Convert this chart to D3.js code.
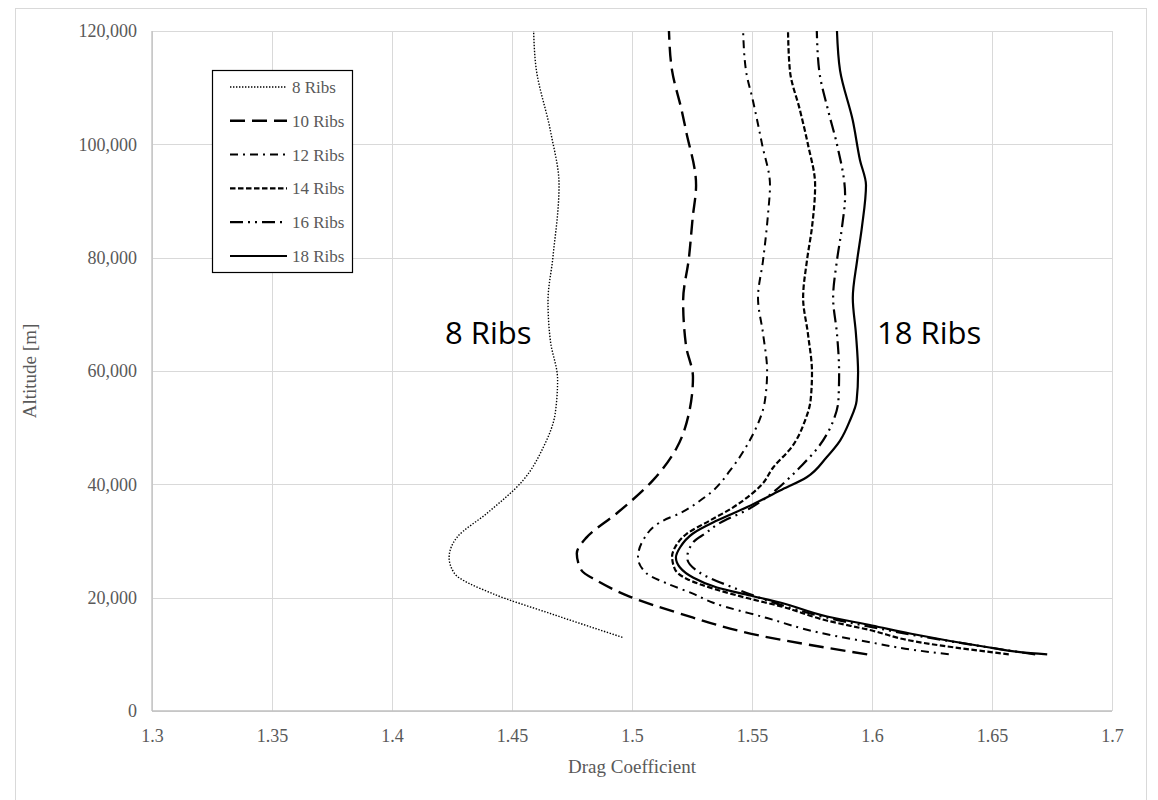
<!DOCTYPE html>
<html>
<head>
<meta charset="utf-8">
<script src="https://cdn.jsdelivr.net/npm/d3@7"></script>
<style>
  html, body { margin: 0; padding: 0; background: #fff; }
  .tick-label { font-family: "Liberation Serif", "Times New Roman", serif; font-size: 18px; fill: #595959; }
  .axis-title { font-family: "Liberation Serif", "Times New Roman", serif; font-size: 19px; fill: #595959; }
  .legend-label { font-family: "Liberation Serif", "Times New Roman", serif; font-size: 17px; fill: #595959; }
  .note { font-family: "Open Sans", "Noto Sans", sans-serif; font-size: 31px; fill: #000; }
</style>
</head>
<body>
<div id="chart"></div>
<script>
// data: altitude [m] and drag coefficient, bottom to top
const ribs8Alt = [13000, 17200, 20700, 24300, 27100, 30600, 34900, 40700, 46500, 52500, 58500, 65300, 72400, 79900, 92800, 102400, 113600, 120000];
const ribs8Cd = [1.496, 1.466, 1.442, 1.426, 1.4238, 1.427, 1.4396, 1.4546, 1.463, 1.468, 1.469, 1.466, 1.465, 1.467, 1.4696, 1.466, 1.46, 1.459];

const ribs10Alt = [10000, 13300, 17200, 20200, 23000, 24800, 27800, 30600, 34900, 40700, 46500, 52500, 58900, 64500, 72400, 79900, 87100, 92800, 102400, 106000, 113000, 120000];
const ribs10Cd = [1.598, 1.5533, 1.52, 1.499, 1.4854, 1.479, 1.477, 1.481, 1.4937, 1.5087, 1.5187, 1.5237, 1.5254, 1.5225, 1.5213, 1.5237, 1.5253, 1.5267, 1.5225, 1.5207, 1.5167, 1.5154];

const ribs12Alt = [10000, 11000, 11900, 13800, 16400, 19100, 20700, 22500, 24300, 27100, 30100, 33600, 34900, 37100, 38900, 42400, 47700, 54800, 60000, 66600, 72900, 79500, 87800, 92800, 100000, 107700, 113000, 120000];
const ribs12Cd = [1.632, 1.6138, 1.6021, 1.5783, 1.5563, 1.5338, 1.5254, 1.5146, 1.506, 1.5025, 1.5046, 1.513, 1.52, 1.5283, 1.5338, 1.5408, 1.549, 1.5554, 1.5563, 1.5546, 1.5525, 1.5546, 1.5567, 1.5575, 1.5542, 1.5504, 1.5475, 1.5463];

const ribs14Alt = [10000, 12440, 14200, 15970, 18500, 19800, 21400, 23300, 25000, 27300, 28850, 31300, 33620, 35900, 38330, 39920, 43020, 46550, 51260, 54790, 59700, 66600, 72900, 79500, 85400, 92800, 100000, 106000, 113000, 120000];
const ribs14Cd = [1.657, 1.6158, 1.6, 1.5811, 1.5617, 1.5492, 1.5354, 1.5229, 1.5179, 1.5167, 1.5179, 1.5229, 1.5325, 1.542, 1.5499, 1.554, 1.5589, 1.5665, 1.5721, 1.5744, 1.575, 1.5733, 1.5713, 1.5729, 1.575, 1.5763, 1.5733, 1.57, 1.5658, 1.565];

const ribs16Alt = [10000, 10800, 11800, 13200, 14800, 16600, 19000, 21800, 24400, 27000, 29900, 31300, 33200, 35500, 38000, 40670, 43020, 46550, 51260, 54790, 59700, 66600, 72900, 79500, 85400, 91000, 100000, 106000, 113000, 120000];
const ribs16Cd = [1.668, 1.655, 1.64, 1.62, 1.6, 1.58, 1.56, 1.542, 1.5283, 1.523, 1.5258, 1.5304, 1.5367, 1.548, 1.557, 1.5644, 1.57, 1.5776, 1.5839, 1.586, 1.5863, 1.5854, 1.5838, 1.5854, 1.5875, 1.5888, 1.5854, 1.5817, 1.578, 1.577];

const ribs18Alt = [10000, 10400, 11200, 13680, 15090, 16680, 19150, 20380, 21790, 23560, 25320, 27090, 28850, 31320, 33600, 36000, 38910, 41260, 44790, 47730, 51260, 54790, 59700, 66600, 72900, 79500, 85400, 92800, 97200, 104200, 113000, 120000];
const ribs18Cd = [1.673, 1.6617, 1.649, 1.6158, 1.6, 1.5813, 1.5617, 1.5492, 1.5354, 1.5254, 1.52, 1.5183, 1.52, 1.5254, 1.5354, 1.548, 1.5617, 1.5728, 1.5811, 1.5867, 1.5908, 1.5936, 1.5942, 1.5933, 1.592, 1.5938, 1.5958, 1.5975, 1.595, 1.592, 1.5867, 1.5854];

const seriesNames = ["8 Ribs", "10 Ribs", "12 Ribs", "14 Ribs", "16 Ribs", "18 Ribs"];
const xTicks = [1.3, 1.35, 1.4, 1.45, 1.5, 1.55, 1.6, 1.65, 1.7];
const yTicks = [0, 20000, 40000, 60000, 80000, 100000, 120000];

// line styles, same order as seriesNames
const styles = [
  { width: 1.4, dash: "1.4,1.6" },
  { width: 2.4, dash: "15,7" },
  { width: 2, dash: "8,5,2,5" },
  { width: 2.2, dash: "5.5,2.5" },
  { width: 2.2, dash: "13,5,2,5,2,5" },
  { width: 2.2, dash: null },
];

const series = [
  [ribs8Cd, ribs8Alt],
  [ribs10Cd, ribs10Alt],
  [ribs12Cd, ribs12Alt],
  [ribs14Cd, ribs14Alt],
  [ribs16Cd, ribs16Alt],
  [ribs18Cd, ribs18Alt],
].map(([cd, alt], i) => ({
  name: seriesNames[i],
  style: styles[i],
  points: cd.map((c, j) => [c, alt[j]]),
}));

const W = 1158, H = 800;
const margin = { top: 31, left: 152 };
const width = 960, height = 680;

var main = d3.select("#chart").append("svg").attr("width", W).attr("height", H);

// chart frame
main.append("rect")
  .attr("x", 15.5).attr("y", 8.5)
  .attr("width", 1131).attr("height", 820)
  .attr("fill", "none").attr("stroke", "#d9d9d9");

var svg = main.append("g").attr("transform", "translate(" + margin.left + "," + margin.top + ")");

var x = d3.scaleLinear().domain([1.3, 1.7]).range([0, width]);
var y = d3.scaleLinear().domain([0, 120000]).range([height, 0]);

// grid
svg.append("g").selectAll("line").data(xTicks).join("line")
  .attr("x1", (d) => Math.round(x(d)) + 0.5).attr("x2", (d) => Math.round(x(d)) + 0.5)
  .attr("y1", 0).attr("y2", height)
  .attr("stroke", "#d9d9d9").attr("stroke-width", 1);
svg.append("g").selectAll("line").data(yTicks).join("line")
  .attr("x1", 0).attr("x2", width)
  .attr("y1", (d) => Math.round(y(d)) + 0.5).attr("y2", (d) => Math.round(y(d)) + 0.5)
  .attr("stroke", "#d9d9d9").attr("stroke-width", 1);

// axes
const xAxis = svg.append("g")
  .attr("transform", "translate(0," + height + ")")
  .call(d3.axisBottom(x).tickValues(xTicks).tickSize(0).tickPadding(18).tickFormat((d) => String(d)));
const yAxis = svg.append("g")
  .call(d3.axisLeft(y).tickValues(yTicks).tickSize(0).tickPadding(15).tickFormat(d3.format(",")));
[xAxis, yAxis].forEach((a) => {
  a.select(".domain").attr("stroke", "#bfbfbf").attr("stroke-width", 1.3);
  a.selectAll("text").attr("class", "tick-label").attr("fill", null);
  a.attr("font-family", null).attr("font-size", null);
});
xAxis.select(".domain").attr("d", "M0,0H" + width);
yAxis.select(".domain").attr("d", "M0,0V" + height);

// curves
const line = d3.line()
  .x((d) => x(d[0]))
  .y((d) => y(d[1]))
  .curve(d3.curveMonotoneY);

svg.append("g").selectAll("path").data(series).join("path")
  .attr("d", (d) => line(d.points))
  .attr("fill", "none")
  .attr("stroke", "#000")
  .attr("stroke-width", (d) => d.style.width)
  .attr("stroke-dasharray", (d) => d.style.dash);

// axis titles
main.append("text").attr("class", "axis-title")
  .attr("x", margin.left + width / 2).attr("y", 773)
  .attr("text-anchor", "middle").text("Drag Coefficient");
main.append("text").attr("class", "axis-title")
  .attr("transform", "translate(36," + (margin.top + height / 2) + ")rotate(-90)")
  .attr("text-anchor", "middle").text("Altitude [m]");

// annotations
main.append("text").attr("class", "note").attr("x", 445).attr("y", 344).text("8 Ribs");
main.append("text").attr("class", "note").attr("x", 877).attr("y", 344).text("18 Ribs");

// legend
const legend = main.append("g").attr("transform", "translate(212,70)");
legend.append("rect")
  .attr("x", 0.5).attr("y", 0.5).attr("width", 140).attr("height", 202)
  .attr("fill", "#fff").attr("stroke", "#000").attr("stroke-width", 1.2);
const item = legend.selectAll(".item").data(series).join("g")
  .attr("class", "item")
  .attr("transform", (d, i) => "translate(0," + (17 + i * 33.8) + ")");
item.append("line")
  .attr("x1", 18).attr("x2", 75).attr("y1", 0).attr("y2", 0)
  .attr("stroke", "#000")
  .attr("stroke-width", (d) => d.style.width)
  .attr("stroke-dasharray", (d) => d.style.dash);
item.append("text").attr("class", "legend-label")
  .attr("x", 80).attr("y", 6).text((d) => d.name);
</script>
</body>
</html>
